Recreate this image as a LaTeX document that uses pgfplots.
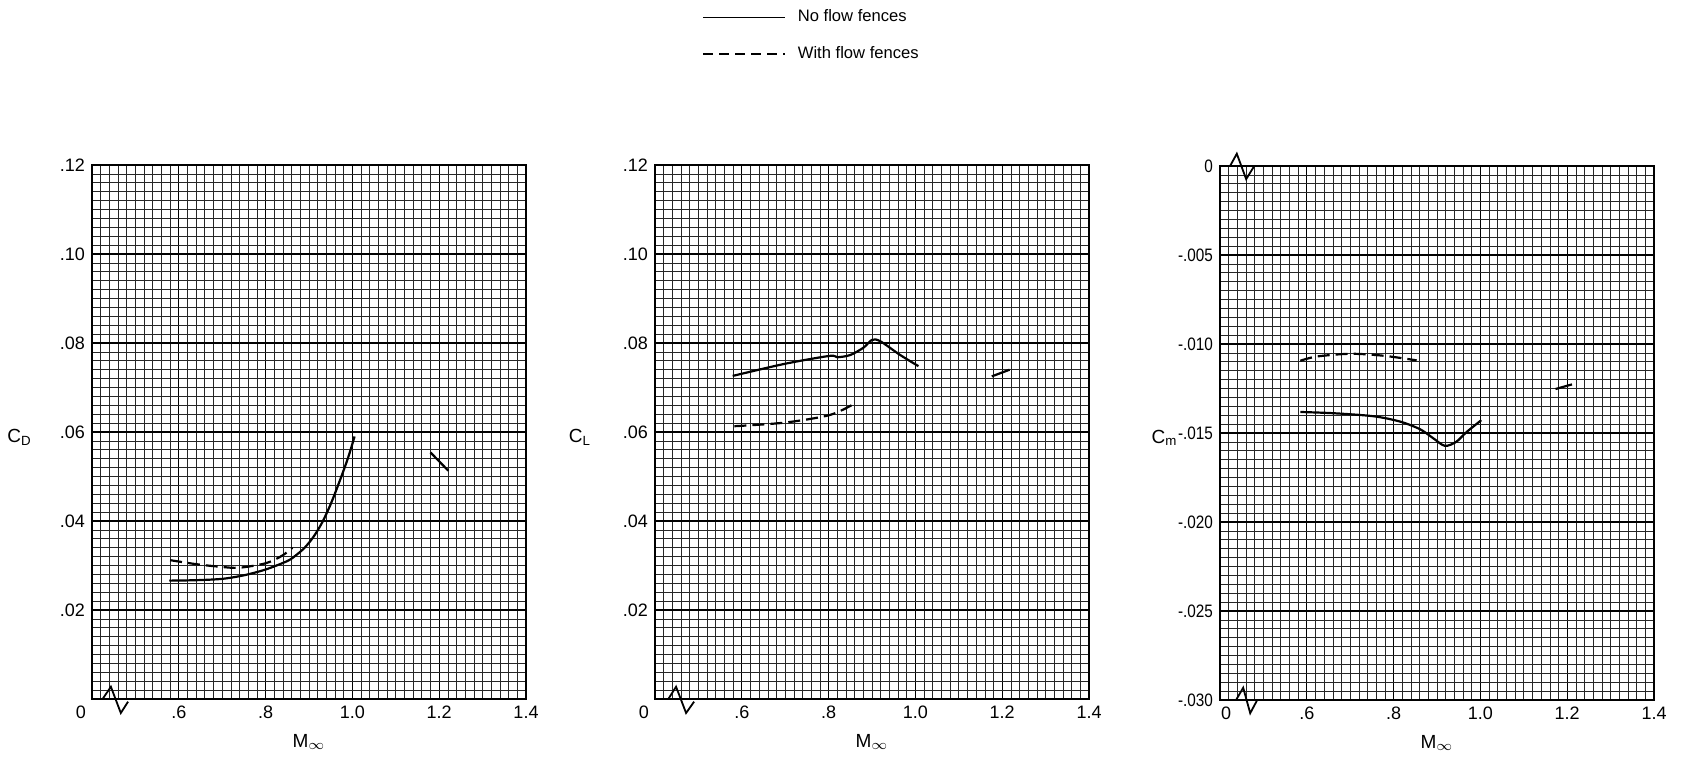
\documentclass[border=0pt]{standalone}
\usepackage{pgfplots}
\pgfplotsset{compat=1.18}
\usepackage{fontspec}
\setmainfont{Liberation Sans}
\newfontfamily\cond{Liberation Sans}[FakeStretch=0.85]
\pgfplotsset{
  chart/.style={
    scale only axis, width=217pt, height=267pt,
    xmin=0.4, xmax=1.4,
    clip=false,
    scaled ticks=false,
    axis line style={line width=0.8pt},
    grid=both,
    major grid style={line width=0.65pt, black},
    minor grid style={line width=0.35pt, black!85},
    tick style={draw=none},
    minor x tick num=9, minor y tick num=9,
    xtick={0.4,0.6,0.8,1.0,1.2,1.4},
    ticklabel style={font=\fontsize{9}{10}\selectfont},
    every axis y label/.style={at={(axis description cs:-0.167,0.49)}, anchor=center, font=\fontsize{9.5}{11}\selectfont},
    every axis x label/.style={at={(axis description cs:0.5,-0.08)}, anchor=center, font=\fontsize{9.5}{11}\selectfont},
    xlabel={M\textsubscript{$\infty$}},
  },
  solidc/.style={black, line width=1.1pt, smooth, tension=0.5, forget plot},
  dashc/.style={black, line width=1.1pt, dash pattern=on 6pt off 3pt, smooth, tension=0.5, forget plot},
  brk/.style={black, line width=0.9pt, forget plot},
}
\begin{document}
\begin{tikzpicture}
\useasboundingbox (0,0) rectangle (842.5pt,383pt);

% ---------------- C_D ----------------
\begin{axis}[chart, at={(46pt,33.5pt)}, anchor=south west,
  ymin=0, ymax=0.12,
  ytick={0,0.02,0.04,0.06,0.08,0.10,0.12},
  yticklabels={,.02,.04,.06,.08,.10,.12},
  xticklabels={\llap{0\hspace{3pt}},.6,.8,1.0,1.2,1.4},
  ylabel={C\textsubscript{D}}]
\addplot[solidc] coordinates {
 (0.578,0.0266) (0.640,0.0267) (0.700,0.0270) (0.750,0.0278) (0.800,0.0291)
 (0.850,0.0310) (0.870,0.0323) (0.890,0.0340) (0.910,0.0364) (0.930,0.0396)
 (0.950,0.0438) (0.970,0.0488) (0.990,0.0542) (1.005,0.0590)};
\addplot[solidc] coordinates {(1.180,0.0554) (1.221,0.0513)};
\addplot[dashc] coordinates {
 (0.580,0.0312) (0.640,0.0303) (0.697,0.0297) (0.739,0.0295) (0.800,0.0305) (0.838,0.0322) (0.862,0.0340)};
\addplot[brk] coordinates {(0.4245,0) (0.4435,0.00276) (0.4664,-0.00315) (0.4831,-0.0006)};
\end{axis}

% ---------------- C_L ----------------
\begin{axis}[chart, at={(327.5pt,33.5pt)}, anchor=south west,
  ymin=0, ymax=0.12,
  ytick={0,0.02,0.04,0.06,0.08,0.10,0.12},
  yticklabels={,.02,.04,.06,.08,.10,.12},
  xticklabels={\llap{0\hspace{3pt}},.6,.8,1.0,1.2,1.4},
  ylabel={C\textsubscript{L}},
  every axis y label/.style={at={(axis description cs:-0.173,0.49)}, anchor=center, font=\fontsize{9.5}{11}\selectfont},
  legend style={at={(axis description cs:0.108,1.295)}, anchor=north west,
    draw=none, fill=none, inner sep=0pt, row sep=8.8pt,
    font=\fontsize{8.3}{9.5}\selectfont, legend cell align=left,
    nodes={inner sep=1pt}},
  legend image code/.code={\draw[#1] (0pt,0pt) -- (41pt,0pt);}]
\addlegendimage{black, line width=0.8pt}
\addlegendentry{\hspace{5pt}No flow fences}
\addlegendimage{black, line width=0.8pt, dash pattern=on 5pt off 3pt}
\addlegendentry{\hspace{5pt}With flow fences}
\addplot[solidc] coordinates {
 (0.579,0.0726) (0.698,0.0753) (0.802,0.0771) (0.820,0.0768) (0.850,0.0773)
 (0.881,0.0790) (0.900,0.0807) (0.919,0.0804) (0.965,0.0773) (1.007,0.0748)};
\addplot[solidc] coordinates {(1.176,0.0725) (1.217,0.0740)};
\addplot[dashc] coordinates {
 (0.583,0.0613) (0.698,0.0621) (0.802,0.0638) (0.858,0.0663)};
\addplot[brk] coordinates {(0.4307,0) (0.4485,0.00276) (0.4716,-0.00315) (0.4901,-0.0006)};
\end{axis}

% ---------------- C_m ----------------
\begin{axis}[chart, at={(610pt,33pt)}, anchor=south west,
  ymin=-0.030, ymax=0,
  ytick={-0.030,-0.025,-0.020,-0.015,-0.010,-0.005,0},
  yticklabels={-.030,-.025,-.020,-.015,-.010,-.005,0},
  yticklabel style={font=\cond\fontsize{9}{10}\selectfont},
  xticklabels={\rlap{\hspace{0.5pt}0},.6,.8,1.0,1.2,1.4},
  ylabel={C\textsubscript{m}},
  every axis y label/.style={at={(axis description cs:-0.128,0.49)}, anchor=center, font=\fontsize{9.5}{11}\selectfont}]
\addplot[solidc] coordinates {
 (0.585,-0.01382) (0.662,-0.01389) (0.754,-0.01406) (0.815,-0.01436) (0.861,-0.01479)
 (0.891,-0.01529) (0.918,-0.01572) (0.944,-0.01550) (0.967,-0.01497) (1.002,-0.01428)};
\addplot[solidc] coordinates {(1.173,-0.01253) (1.211,-0.01227)};
\addplot[dashc] coordinates {
 (0.585,-0.01094) (0.624,-0.01070) (0.701,-0.01055) (0.777,-0.01066) (0.853,-0.01092)};
\addplot[brk] coordinates {(0.4232,0) (0.4387,0.00069) (0.4603,-0.00074) (0.4789,0)};
\addplot[brk] coordinates {(0.437,-0.030) (0.4534,-0.02931) (0.4696,-0.03074) (0.4858,-0.030)};
\end{axis}
\end{tikzpicture}
\end{document}
